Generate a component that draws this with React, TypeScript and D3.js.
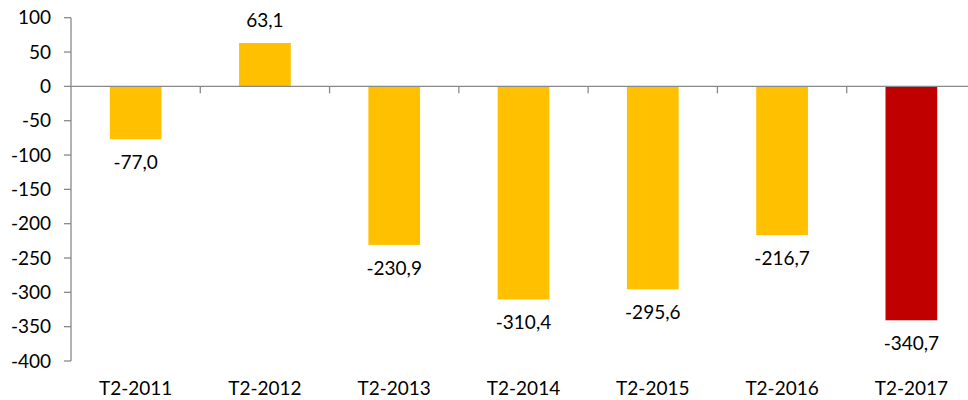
import React from "react";
import { scaleBand, scaleLinear } from "d3";

const categories = ["T2-2011", "T2-2012", "T2-2013", "T2-2014", "T2-2015", "T2-2016", "T2-2017"];
const values = [-77.0, 63.1, -230.9, -310.4, -295.6, -216.7, -340.7];
const barColors = ["#FFC000", "#FFC000", "#FFC000", "#FFC000", "#FFC000", "#FFC000", "#C00000"];
const yTicks = [100, 50, 0, -50, -100, -150, -200, -250, -300, -350, -400];

const width = 968;
const height = 400;
const axisColor = "#898989";
const font = "Lato, 'Open Sans', sans-serif";

function App() {
  // plot area runs past the right edge of the picture, like the original
  const xScale = scaleBand<string>()
    .domain(categories)
    .range([71, 976])
    .paddingInner(0.6)
    .paddingOuter(0.3);

  const yScale = scaleLinear().domain([-400, 100]).range([361, 17.7]);

  const step = xScale.step();
  const y0 = yScale(0);
  const fmt = (v: number) => v.toFixed(1).replace(".", ",");

  return (
    <svg
      width={width}
      height={height}
      style={{ position: "absolute", left: 0, top: 0, background: "#fff" }}
      fontFamily={font}
    >
      {/* bars */}
      {values.map((v, i) => (
        <rect
          key={categories[i]}
          x={xScale(categories[i])}
          width={xScale.bandwidth()}
          y={Math.min(yScale(v), y0)}
          height={Math.abs(yScale(v) - y0)}
          fill={barColors[i]}
        />
      ))}

      {/* y axis */}
      <line x1={71} x2={71} y1={yScale(100)} y2={yScale(-400)} stroke={axisColor} strokeWidth={1.3} />
      {yTicks.map((t) => (
        <g key={t}>
          <line x1={64} x2={71} y1={yScale(t)} y2={yScale(t)} stroke={axisColor} strokeWidth={1.3} />
          <text x={51} y={yScale(t)} dy="0.35em" textAnchor="end" fontSize={19} fill="#000">
            {t}
          </text>
        </g>
      ))}

      {/* zero line with category boundary ticks */}
      <line x1={71} x2={width} y1={y0} y2={y0} stroke={axisColor} strokeWidth={1.3} />
      {categories.map((c, i) => (
        <line
          key={c}
          x1={71 + step * (i + 1)}
          x2={71 + step * (i + 1)}
          y1={y0}
          y2={y0 + 7}
          stroke={axisColor}
          strokeWidth={1.3}
        />
      ))}

      {/* value labels */}
      {values.map((v, i) => (
        <text
          key={categories[i]}
          x={(xScale(categories[i]) as number) + xScale.bandwidth() / 2}
          y={v < 0 ? yScale(v) + 23 : yScale(v) - 23}
          dy="0.35em"
          textAnchor="middle"
          fontSize={19}
          fill="#000"
        >
          {fmt(v)}
        </text>
      ))}

      {/* category labels */}
      {categories.map((c) => (
        <text
          key={c}
          x={(xScale(c) as number) + xScale.bandwidth() / 2}
          y={388}
          dy="0.35em"
          textAnchor="middle"
          fontSize={19}
          fill="#000"
        >
          {c}
        </text>
      ))}
    </svg>
  );
}

export default App;
